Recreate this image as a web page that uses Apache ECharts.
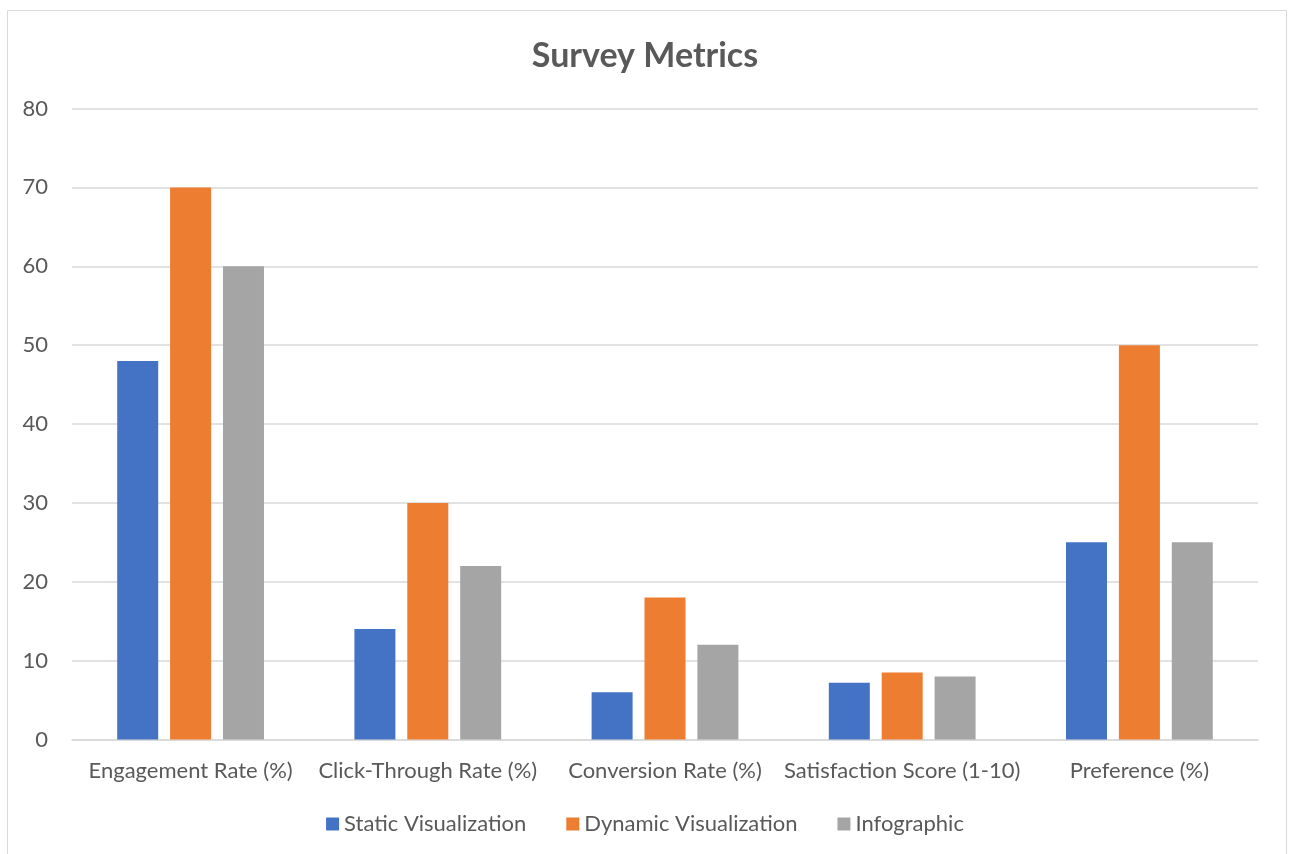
<!DOCTYPE html>
<html><head><meta charset="utf-8">
<script src="https://cdn.jsdelivr.net/npm/echarts@6/dist/echarts.min.js"></script>
<style>html,body{margin:0;padding:0;background:#fff}#c{width:1290px;height:854px}</style>
</head><body><div id="c"></div>
<script>
const categories = ['Engagement Rate (%)', 'Click-Through Rate (%)', 'Conversion Rate (%)', 'Satisfaction Score (1-10)', 'Preference (%)'];
const staticVis = [48, 14, 6, 7.2, 25];
const dynamicVis = [70, 30, 18, 8.5, 50];
const infographic = [60, 22, 12, 8, 25];
const seriesNames = ['Static Visualization', 'Dynamic Visualization', 'Infographic'];
const colors = ['#4472C4', '#ED7D31', '#A5A5A5'];
const FONT = 'Lato, "Open Sans", sans-serif';
const chart = echarts.init(document.getElementById('c'));
const mk = (name, data, color) => ({
  name, type: 'bar', data, barWidth: 41, barGap: '29%',
  itemStyle: { color }
});
chart.setOption({
  animation: false,
  color: colors,
  textStyle: { fontFamily: FONT },
  title: {
    text: 'Survey Metrics', left: 'center', top: 34,
    textStyle: { fontFamily: FONT, fontSize: 34, fontWeight: 'bold', color: '#595959' }
  },
  graphic: [{
    type: 'rect', shape: { x: 7.5, y: 10.5, width: 1279, height: 850 },
    style: { fill: 'none', stroke: '#d9d9d9', lineWidth: 1 }, silent: true
  }],
  legend: {
    top: 808, left: 'center', icon: 'rect', itemWidth: 13, itemHeight: 13, itemGap: 40,
    textStyle: { fontFamily: FONT, fontSize: 22, color: '#595959' },
    data: seriesNames
  },
  grid: { left: 72, right: 32, top: 108.5, bottom: 114.5, containLabel: false },
  xAxis: {
    type: 'category', data: categories,
    axisLine: { lineStyle: { color: '#d9d9d9', width: 1.5 } },
    axisTick: { show: false },
    axisLabel: { fontFamily: FONT, fontSize: 22, color: '#595959', margin: 20, interval: 0 }
  },
  yAxis: {
    type: 'value', min: 0, max: 80, interval: 10,
    axisLine: { show: false }, axisTick: { show: false },
    splitLine: { lineStyle: { color: '#d9d9d9', width: 1.5 } },
    axisLabel: { fontFamily: FONT, fontSize: 22, color: '#595959', margin: 24 }
  },
  series: [
    mk(seriesNames[0], staticVis, colors[0]),
    mk(seriesNames[1], dynamicVis, colors[1]),
    mk(seriesNames[2], infographic, colors[2])
  ]
});
</script></body></html>
